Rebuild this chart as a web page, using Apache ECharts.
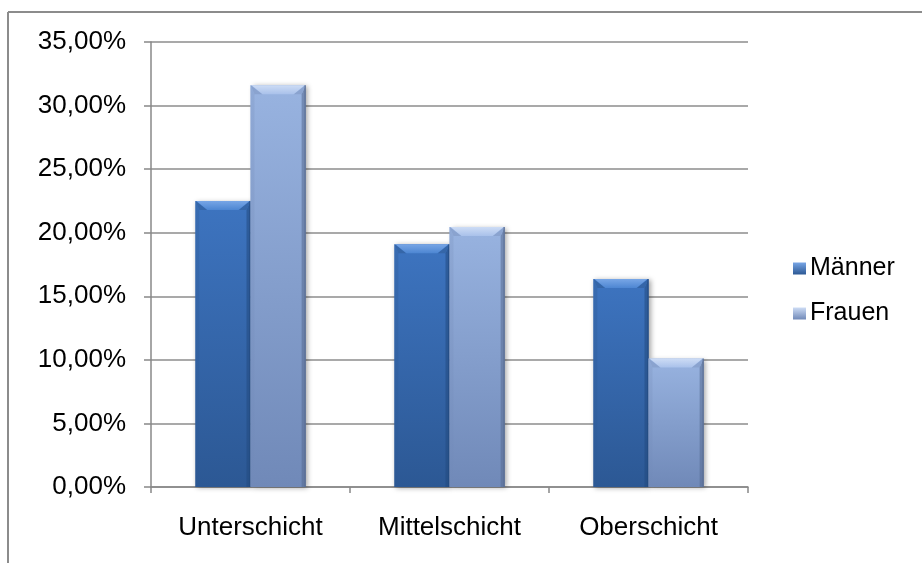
<!DOCTYPE html>
<html>
<head>
<meta charset="utf-8">
<script src="https://cdn.jsdelivr.net/npm/echarts@6/dist/echarts.min.js"></script>
<style>
  html, body { margin: 0; padding: 0; background: #ffffff; }
  #chart { width: 922px; height: 563px; }
</style>
</head>
<body>
<div id="chart"></div>
<script>
// Anteile nach sozialer Schicht und Geschlecht (in Prozent)
const categories = ['Unterschicht', 'Mittelschicht', 'Oberschicht'];
const maenner = [22.5, 19.1, 16.35];
const frauen = [31.6, 20.45, 10.1];
const seriesNames = ['Männer', 'Frauen'];

// value axis range
const yMin = 0;
const yMax = 35;
const yStep = 5;

const FONT = '"Liberation Sans", Arial, sans-serif';

// colour sets for the bevelled bars
const palettes = [
  { top: '#3d74c0', bottom: '#2c5894', bevel: '#78a6e6', bevelEnd: '#4d86d2', corner: '#3566a8', edge: '#234a80' },
  { top: '#98b3e0', bottom: '#7089b8', bevel: '#cddcf5', bevelEnd: '#a9c1ea', corner: '#8aa3cf', edge: '#55698f' }
];

function vGrad(a, b) {
  return new echarts.graphic.LinearGradient(0, 0, 0, 1, [
    { offset: 0, color: a }, { offset: 1, color: b }
  ]);
}

function makeRenderer(seriesIdx) {
  const pal = palettes[seriesIdx];
  return function (params, api) {
    const idx = api.value(0);
    const val = api.value(1);
    const base = api.coord([idx, 0]);
    const top = api.coord([idx, val]);
    const band = api.size([1, 0])[0];
    const bw = band * 0.277;
    const x0 = seriesIdx === 0 ? base[0] - bw : base[0];
    const x1 = x0 + bw;
    const y0 = top[1];
    const y1 = base[1];
    const b = Math.min(9, (y1 - y0) / 2);
    const s = 4;
    return {
      type: 'group',
      children: [
        {
          type: 'rect',
          shape: { x: x0, y: y0, width: bw, height: y1 - y0 },
          style: {
            fill: vGrad(pal.top, pal.bottom),
            shadowBlur: 5,
            shadowOffsetX: 2,
            shadowOffsetY: 1,
            shadowColor: 'rgba(0,0,0,0.35)'
          }
        },
        {
          // left edge
          type: 'polygon',
          shape: { points: [[x0, y0], [x0 + s, y0 + b], [x0 + s, y1], [x0, y1]] },
          style: { fill: vGrad(pal.corner, pal.bottom), opacity: 0.6 }
        },
        {
          // right edge
          type: 'polygon',
          shape: { points: [[x1, y0], [x1 - s, y0 + b], [x1 - s, y1], [x1, y1]] },
          style: { fill: pal.edge, opacity: 0.55 }
        },
        {
          // corner triangles of the top bevel
          type: 'polygon',
          shape: { points: [[x0, y0], [x0 + s + 8, y0 + b], [x0 + s, y0 + b]] },
          style: { fill: pal.corner }
        },
        {
          type: 'polygon',
          shape: { points: [[x1, y0], [x1 - s - 8, y0 + b], [x1 - s, y0 + b]] },
          style: { fill: pal.corner }
        },
        {
          // top bevel
          type: 'polygon',
          shape: { points: [[x0 + 1, y0], [x1 - 1, y0], [x1 - s - 8, y0 + b], [x0 + s + 8, y0 + b]] },
          style: { fill: vGrad(pal.bevel, pal.bevelEnd) }
        },
        {
          type: 'line',
          shape: { x1: x1 - 0.5, y1: y0, x2: x1 - 0.5, y2: y1 },
          style: { stroke: pal.edge, lineWidth: 1 }
        }
      ]
    };
  };
}

function pairs(values) {
  return values.map(function (v, i) { return [i, v]; });
}

const chart = echarts.init(document.getElementById('chart'), null, { renderer: 'canvas' });

chart.setOption({
  backgroundColor: '#ffffff',
  animation: false,
  textStyle: { fontFamily: FONT },
  graphic: [
    { type: 'line', shape: { x1: 8, y1: 12, x2: 922, y2: 12 }, style: { stroke: '#8c8c8c', lineWidth: 2 } },
    { type: 'line', shape: { x1: 8, y1: 12, x2: 8, y2: 563 }, style: { stroke: '#8c8c8c', lineWidth: 2 } }
  ],
  grid: { left: 151, right: 174, top: 42, bottom: 76, containLabel: false },
  legend: {
    orient: 'vertical',
    left: 788,
    top: 251,
    itemWidth: 13,
    itemHeight: 12,
    itemGap: 20,
    icon: 'rect',
    textStyle: { fontFamily: FONT, fontSize: 25, color: '#000000', padding: [0, 0, 0, -1] },
    data: seriesNames
  },
  xAxis: {
    type: 'category',
    data: categories,
    axisLine: { show: true, lineStyle: { color: '#888888', width: 1.5 } },
    axisTick: { show: true, alignWithLabel: false, length: 6, lineStyle: { color: '#888888', width: 1.5 } },
    axisLabel: { fontFamily: FONT, fontSize: 26, color: '#000000', margin: 28 },
    splitLine: { show: false }
  },
  yAxis: {
    type: 'value',
    min: yMin,
    max: yMax,
    interval: yStep,
    axisLine: { show: true, lineStyle: { color: '#888888', width: 1.5 } },
    axisTick: { show: true, inside: false, length: 7, lineStyle: { color: '#888888', width: 1.5 } },
    axisLabel: {
      fontFamily: FONT,
      fontSize: 26,
      color: '#000000',
      margin: 25,
      formatter: function (v) { return v.toFixed(2).replace('.', ',') + '%'; }
    },
    splitLine: { show: true, lineStyle: { color: '#8c8c8c', width: 1.5 } }
  },
  series: [
    {
      name: seriesNames[0],
      type: 'custom',
      renderItem: makeRenderer(0),
      itemStyle: { color: vGrad(palettes[0].bevel, palettes[0].bottom) },
      encode: { x: 0, y: 1 },
      data: pairs(maenner),
      z: 3
    },
    {
      name: seriesNames[1],
      type: 'custom',
      renderItem: makeRenderer(1),
      itemStyle: { color: vGrad(palettes[1].bevel, palettes[1].bottom) },
      encode: { x: 0, y: 1 },
      data: pairs(frauen),
      z: 3
    }
  ]
});
</script>
</body>
</html>
